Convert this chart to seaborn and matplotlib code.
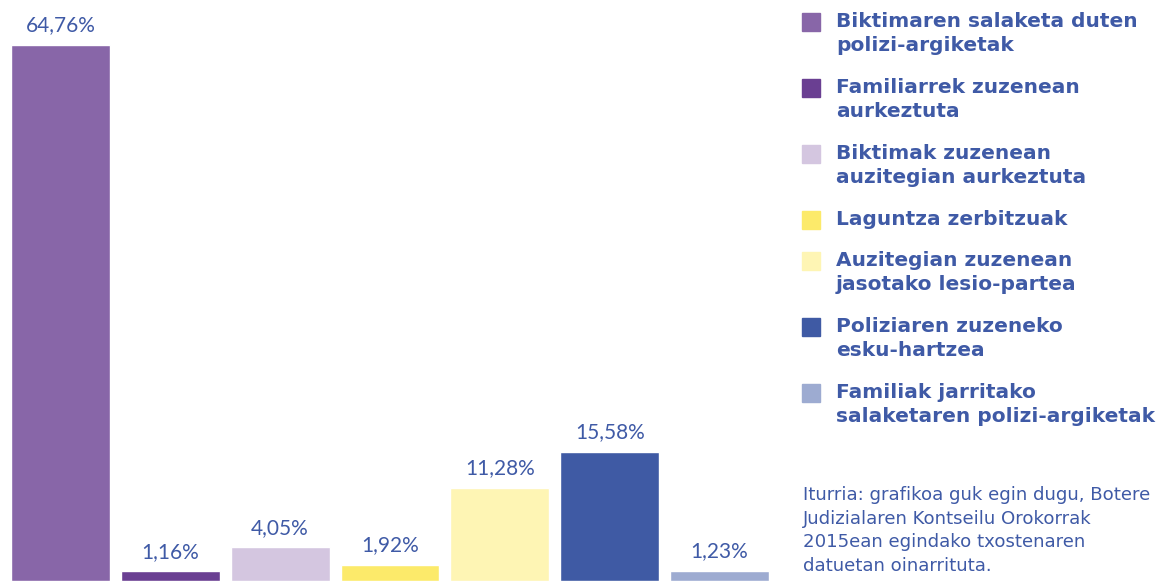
import matplotlib
matplotlib.use("Agg")
import matplotlib.pyplot as plt
import seaborn as sns
import pandas as pd
from matplotlib.patches import Rectangle

# Data
categories = [
    "Biktimaren salaketa duten\npolizi-argiketak",
    "Familiarrek zuzenean\naurkeztuta",
    "Biktimak zuzenean\nauzitegian aurkeztuta",
    "Laguntza zerbitzuak",
    "Auzitegian zuzenean\njasotako lesio-partea",
    "Poliziaren zuzeneko\nesku-hartzea",
    "Familiak jarritako\nsalaketaren polizi-argiketak",
]
values = [64.76, 1.16, 4.05, 1.92, 11.28, 15.58, 1.23]
colors = ["#8866a8", "#6a3f92", "#d4c6e0", "#fcea6a", "#fef5b4", "#3f5aa4", "#9dabd1"]
source = ("Iturria: grafikoa guk egin dugu, Botere\n"
          "Judizialaren Kontseilu Orokorrak\n"
          "2015ean egindako txostenaren\n"
          "datuetan oinarrituta.")

text_blue = "#3f5aa6"

sns.set_theme(style="white")
plt.rcParams["font.family"] = ["Lato", "DejaVu Sans"]

df = pd.DataFrame({"cat": categories, "val": values})

W, H = 1157, 581
fig = plt.figure(figsize=(W / 100, H / 100), dpi=100)
ax = fig.add_axes([0, 0, 780 / W, 1])

sns.barplot(data=df, x="cat", y="val", hue="cat", palette=colors,
            width=0.9, legend=False, saturation=1, ax=ax)
ax.set_xlim(-0.55, 6.55)
ax.set_ylim(0, 70.2)
ax.axis("off")

labels = [f"{v:.2f}".replace(".", ",") + "%" for v in values]
for cont, lab in zip(ax.containers, labels):
    ax.bar_label(cont, labels=[lab], padding=7, fontsize=15,
                 color=text_blue)

# Legend drawn by hand so the square lines up with the first text line
y = 22
for cat, col in zip(categories, colors):
    fig.patches.append(Rectangle((802 / W, 1 - (y + 9) / H), 18 / W, 18 / H,
                                 transform=fig.transFigure, color=col))
    fig.text(836 / W, 1 - (y - 10) / H, cat, fontsize=14.5, fontweight="bold",
             family="DejaVu Sans", color=text_blue, va="top", ha="left",
             linespacing=1.33)
    nlines = cat.count("\n") + 1
    y += 25 * nlines + 16

fig.text(803 / W, 1 - 486 / H, source, fontsize=13.1, color=text_blue,
         family="DejaVu Sans", va="top", ha="left", linespacing=1.41)

fig.savefig("out.png", dpi=100)
